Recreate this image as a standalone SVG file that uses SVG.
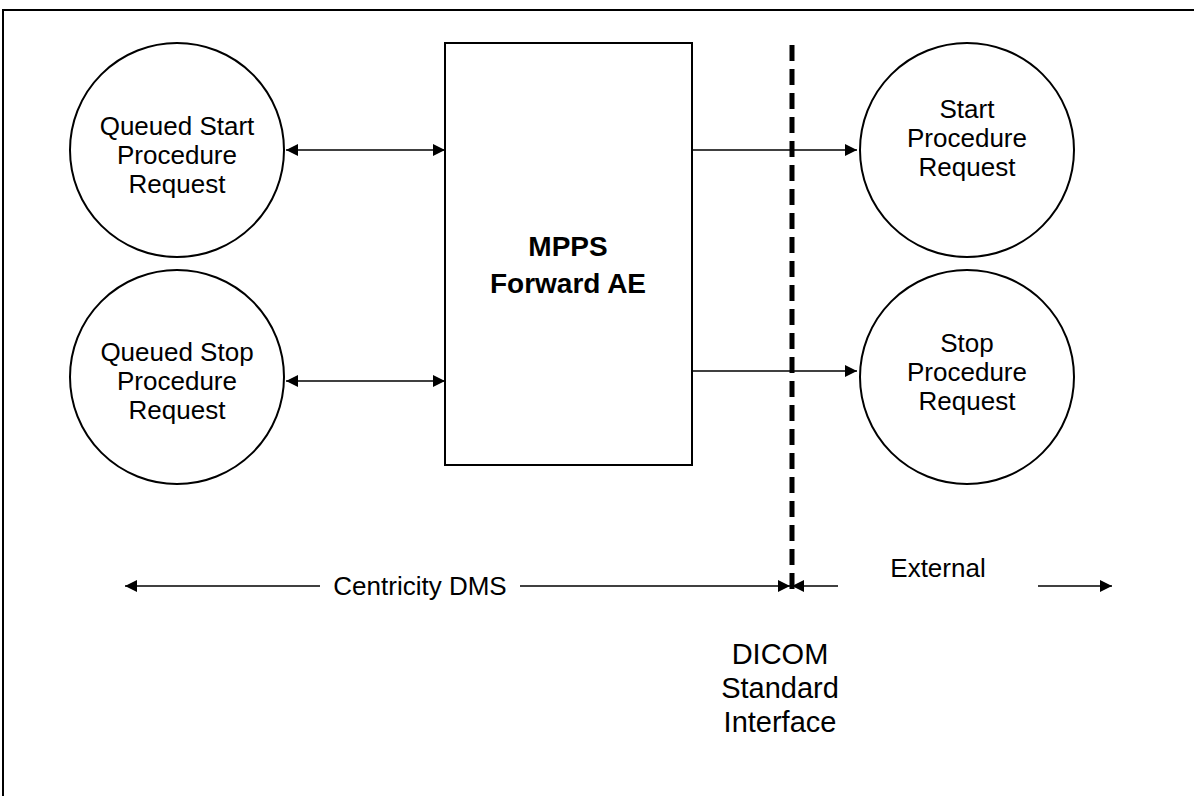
<svg xmlns="http://www.w3.org/2000/svg" width="1194" height="796" viewBox="0 0 1194 796">
<style>
.node{fill:#fff;stroke:#000;stroke-width:2}
.t{font-family:"Liberation Sans",Arial,sans-serif;font-size:26px;fill:#000;text-anchor:middle}
.b{font-family:"Liberation Sans",Arial,sans-serif;font-size:28px;font-weight:bold;fill:#000;text-anchor:middle}
.l{font-family:"Liberation Sans",Arial,sans-serif;font-size:26px;fill:#000;text-anchor:middle}
.d{font-family:"Liberation Sans",Arial,sans-serif;font-size:29px;fill:#000;text-anchor:middle}
.c{stroke:#000;stroke-width:1.6;fill:none}
</style>
<defs>
<marker id="ah" viewBox="0 0 10 10" refX="10" refY="5" markerWidth="15" markerHeight="12" markerUnits="userSpaceOnUse" orient="auto-start-reverse">
<path d="M0,0 L10,5 L0,10 z" fill="#000"/>
</marker>
</defs>
<rect width="1194" height="796" fill="#fff"/>
<path d="M3,796 L3,10 L1194,10" fill="none" stroke="#000" stroke-width="2"/>
<g id="qstart"><circle class="node" cx="177" cy="150" r="107"/>
<text class="t" x="177" y="135">Queued Start</text><text class="t" x="177" y="164">Procedure</text><text class="t" x="177" y="193">Request</text></g>
<g id="qstop"><circle class="node" cx="177" cy="377" r="107"/>
<text class="t" x="177" y="361">Queued Stop</text><text class="t" x="177" y="390">Procedure</text><text class="t" x="177" y="419">Request</text></g>
<g id="mpps"><rect class="node" x="445" y="43" width="247" height="422"/>
<text class="b" x="568" y="256">MPPS</text><text class="b" x="568" y="293">Forward AE</text></g>
<g id="start"><circle class="node" cx="967" cy="150" r="107"/>
<text class="t" x="967" y="118">Start</text><text class="t" x="967" y="147">Procedure</text><text class="t" x="967" y="176">Request</text></g>
<g id="stop"><circle class="node" cx="967" cy="377" r="107"/>
<text class="t" x="967" y="352">Stop</text><text class="t" x="967" y="381">Procedure</text><text class="t" x="967" y="410">Request</text></g>
<g id="boundary"><line x1="792" y1="45" x2="792" y2="592" stroke="#000" stroke-width="5" stroke-dasharray="16,8"/>
<text class="d" x="780" y="664">DICOM</text><text class="d" x="780" y="698">Standard</text><text class="d" x="780" y="732">Interface</text></g>
<g id="connectors">
<line class="c" x1="286" y1="150" x2="445" y2="150" marker-start="url(#ah)" marker-end="url(#ah)"/>
<line class="c" x1="286" y1="381" x2="445" y2="381" marker-start="url(#ah)" marker-end="url(#ah)"/>
<line class="c" x1="692" y1="150" x2="857" y2="150" marker-end="url(#ah)"/>
<line class="c" x1="692" y1="371" x2="857" y2="371" marker-end="url(#ah)"/>
<line class="c" x1="125" y1="586" x2="320" y2="586" marker-start="url(#ah)"/>
<line class="c" x1="520" y1="586" x2="790" y2="586" marker-end="url(#ah)"/>
<line class="c" x1="792" y1="586" x2="838" y2="586" marker-start="url(#ah)"/>
<line class="c" x1="1038" y1="586" x2="1112" y2="586" marker-end="url(#ah)"/>
<text class="l" x="420" y="595">Centricity DMS</text>
<text class="l" x="938" y="577">External</text>
</g>
</svg>
